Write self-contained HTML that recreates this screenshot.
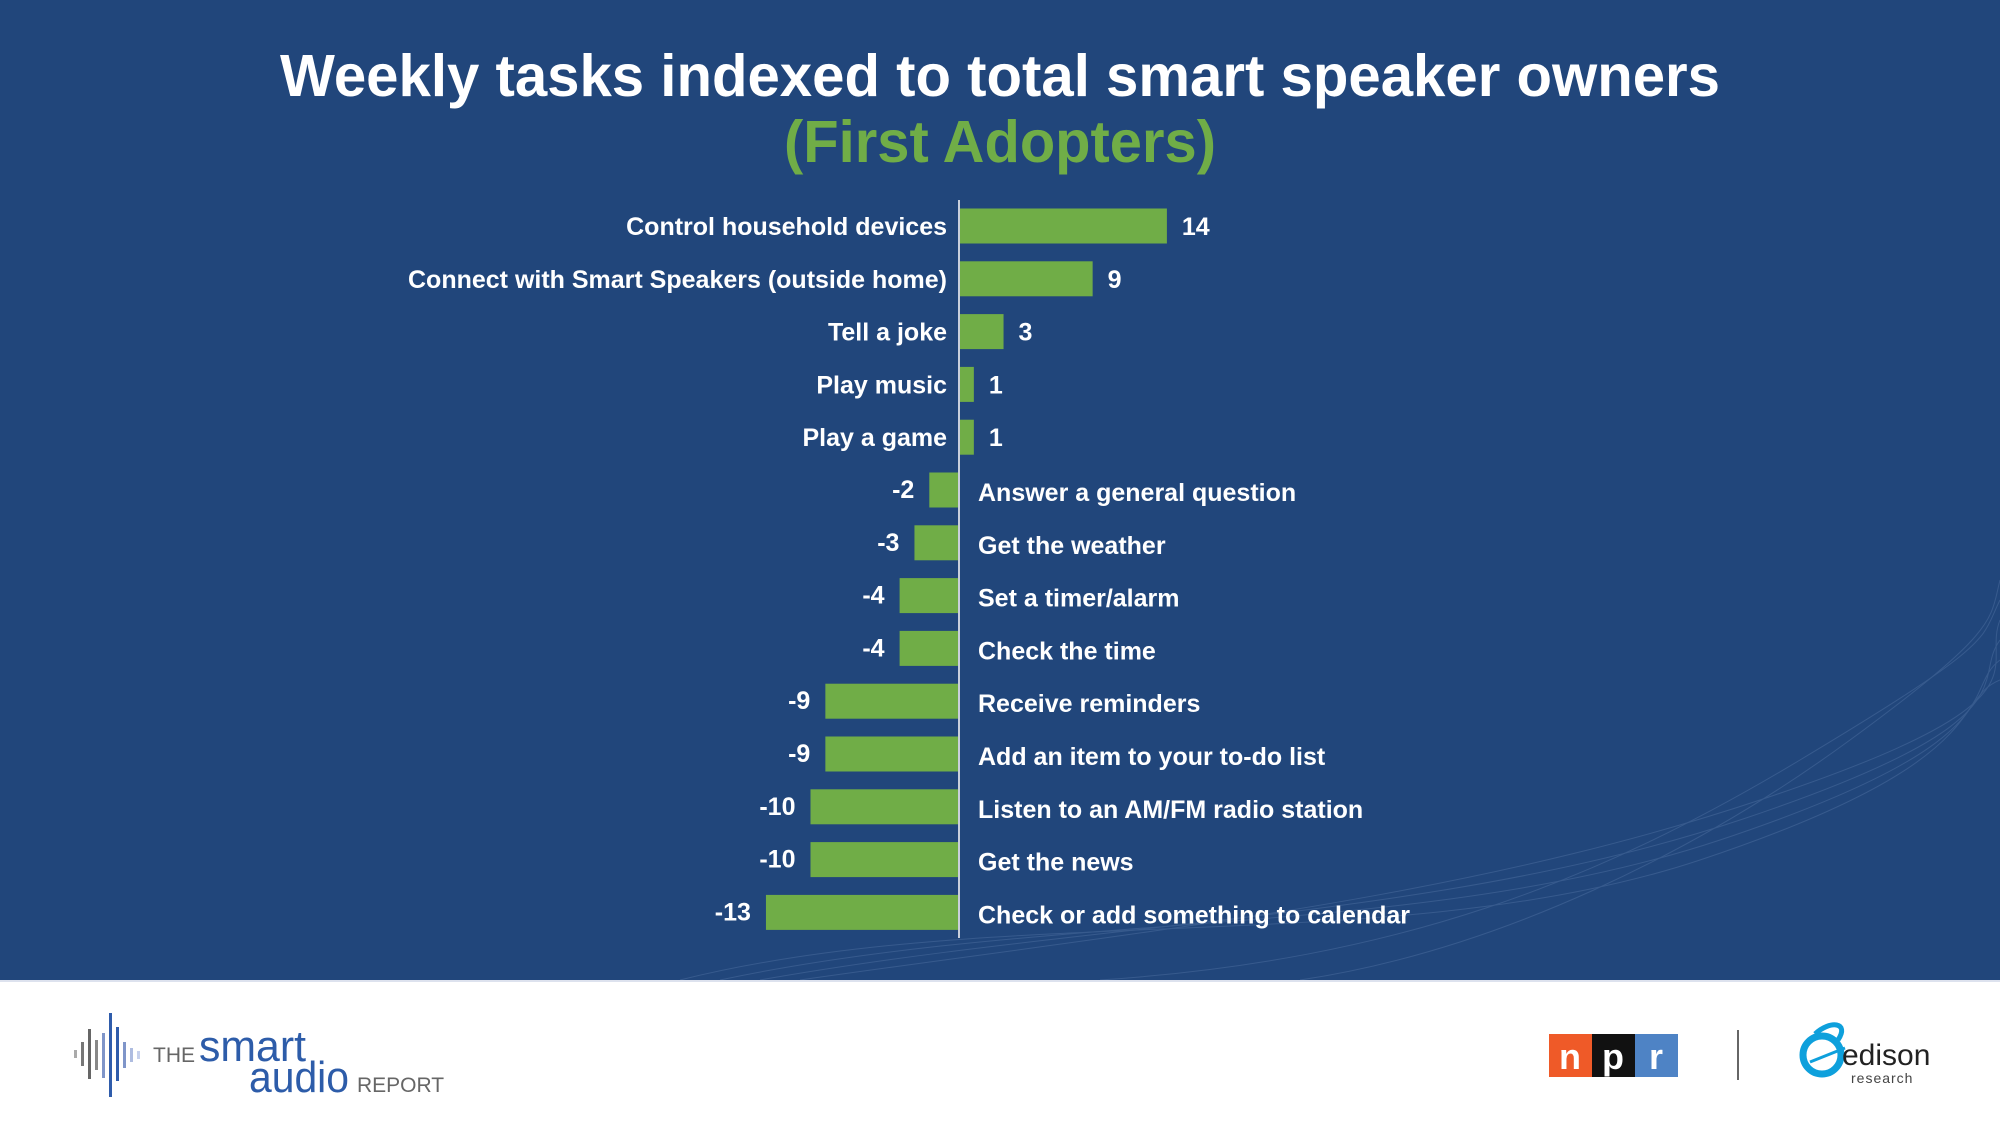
<!DOCTYPE html>
<html><head><meta charset="utf-8">
<style>
body{margin:0;width:2000px;height:1125px;overflow:hidden;font-family:"Liberation Sans",Arial,sans-serif;background:#fff}
#main{position:absolute;left:0;top:0;width:2000px;height:980px;background:#21467b}
#footer{position:absolute;left:0;top:980px;width:2000px;height:145px;background:#fff;border-top:2px solid #dde2ee}
</style></head><body>
<div id="main">
<svg width="2000" height="980" style="position:absolute;left:0;top:0">
 <g fill="none" stroke="#4d6fa0" stroke-width="1" opacity="0.5">
  <path d="M680 980 C1000 900 1400 960 1700 860 S1950 700 2000 680"/>
  <path d="M720 980 C1050 910 1420 940 1720 840 S1960 690 2000 660"/>
  <path d="M760 980 C1100 920 1440 920 1740 820 S1970 680 2000 640"/>
  <path d="M800 980 C1150 930 1460 900 1760 800 S1980 670 2000 620"/>
  <path d="M1100 980 C1400 960 1600 880 1800 760 S1980 640 2000 600"/>
  <path d="M1300 980 C1500 950 1700 850 1850 740 S1990 620 2000 580"/>
 </g>
 <text x="1000" y="96" text-anchor="middle" font-size="59" font-weight="bold" fill="#fff" textLength="1440" lengthAdjust="spacingAndGlyphs">Weekly tasks indexed to total smart speaker owners</text>
 <text x="1000" y="162" text-anchor="middle" font-size="59" font-weight="bold" fill="#70ad47" textLength="432" lengthAdjust="spacingAndGlyphs">(First Adopters)</text>
 <g id="bars"></g>
 <line x1="959" y1="200" x2="959" y2="938" stroke="#c8cfdc" stroke-width="2"/>
</svg>
</div>
<div id="footer">
<svg width="2000" height="145">
 <g>
  <rect x="74" y="68" width="3" height="8" fill="#aaa"/>
  <rect x="81" y="60" width="3" height="24" fill="#777"/>
  <rect x="88" y="47" width="3" height="50" fill="#666"/>
  <rect x="95" y="58" width="3" height="30" fill="#888"/>
  <rect x="102" y="51" width="3" height="45" fill="#7f95c9"/>
  <rect x="109" y="31" width="3" height="84" fill="#2f5cab"/>
  <rect x="116" y="45" width="3" height="54" fill="#2f5cab"/>
  <rect x="123" y="60" width="3" height="26" fill="#7f95c9"/>
  <rect x="130" y="66" width="3" height="14" fill="#aebce0"/>
  <rect x="137" y="69" width="3" height="8" fill="#c7d1ec"/>
  <text x="153" y="80" font-size="21" fill="#666">THE</text>
  <text x="199" y="79" font-size="44" fill="#2d5ca9" textLength="107" lengthAdjust="spacingAndGlyphs">smart</text>
  <text x="249" y="110" font-size="44" fill="#2d5ca9" textLength="100" lengthAdjust="spacingAndGlyphs">audio</text>
  <text x="357" y="110" font-size="21" fill="#666">REPORT</text>
 </g>
 <g>
  <rect x="1549" y="52" width="43" height="43" fill="#ef5a28"/>
  <rect x="1592" y="52" width="43" height="43" fill="#111"/>
  <rect x="1635" y="52" width="43" height="43" fill="#4e83c5"/>
  <text x="1570" y="87" font-size="36" font-weight="bold" fill="#fff" text-anchor="middle">n</text>
  <text x="1613" y="87" font-size="36" font-weight="bold" fill="#fff" text-anchor="middle">p</text>
  <text x="1656" y="87" font-size="36" font-weight="bold" fill="#fff" text-anchor="middle">r</text>
 </g>
 <rect x="1737" y="48" width="2" height="50" fill="#666"/>
 <g>
  <circle cx="1822" cy="73" r="19" fill="none" stroke="#0ea0dc" stroke-width="7"/>
  <path d="M1815 52 C1830 38 1850 40 1838 58" fill="none" stroke="#0ea0dc" stroke-width="5"/>
  <path d="M1810 80 L1845 66" stroke="#0ea0dc" stroke-width="3"/>
  <text x="1842" y="83" font-size="30" fill="#222">edison</text>
  <text x="1851" y="101" font-size="14" fill="#444" letter-spacing="1">research</text>
 </g>
</svg>
</div>
<script>
const categories=["Control household devices","Connect with Smart Speakers (outside home)","Tell a joke","Play music","Play a game","Answer a general question","Get the weather","Set a timer/alarm","Check the time","Receive reminders","Add an item to your to-do list","Listen to an AM/FM radio station","Get the news","Check or add something to calendar"];
const values=[14,9,3,1,1,-2,-3,-4,-4,-9,-9,-10,-10,-13];
const valueLabels=["14","9","3","1","1","-2","-3","-4","-4","-9","-9","-10","-10","-13"];
const x0=959,pxPerUnit=14.85,y0=226,step=52.8,barH=35;
function xs(v){return x0+v*pxPerUnit;}
function yc(i){return y0+i*step;}
const g=document.getElementById('bars');
const NS='http://www.w3.org/2000/svg';
values.forEach((v,i)=>{
 const r=document.createElementNS(NS,'rect');
 const x1=Math.min(xs(0),xs(v)),x2=Math.max(xs(0),xs(v));
 r.setAttribute('x',x1);r.setAttribute('y',yc(i)-barH/2);
 r.setAttribute('width',x2-x1);r.setAttribute('height',barH);
 r.setAttribute('fill','#70ad47');
 
 
 g.appendChild(r);
 const c=document.createElementNS(NS,'text');
 c.textContent=categories[i];
 c.setAttribute('font-size','25');c.setAttribute('font-weight','bold');c.setAttribute('fill','#fff');
 c.setAttribute('y',yc(i)+9+(v<0?2:0));
 if(v>=0){c.setAttribute('x',xs(0)-12);c.setAttribute('text-anchor','end');}
 else{c.setAttribute('x',xs(0)+19);}
 
 
 g.appendChild(c);
 const t=document.createElementNS(NS,'text');
 t.textContent=valueLabels[i];
 t.setAttribute('font-size','25');t.setAttribute('font-weight','bold');t.setAttribute('fill','#fff');
 t.setAttribute('y',yc(i)+9+(v<0?-1:0));
 if(v>=0){t.setAttribute('x',xs(v)+15);}
 else{t.setAttribute('x',xs(v)-15);t.setAttribute('text-anchor','end');}
 
 
 g.appendChild(t);
});
</script>
</body></html>
